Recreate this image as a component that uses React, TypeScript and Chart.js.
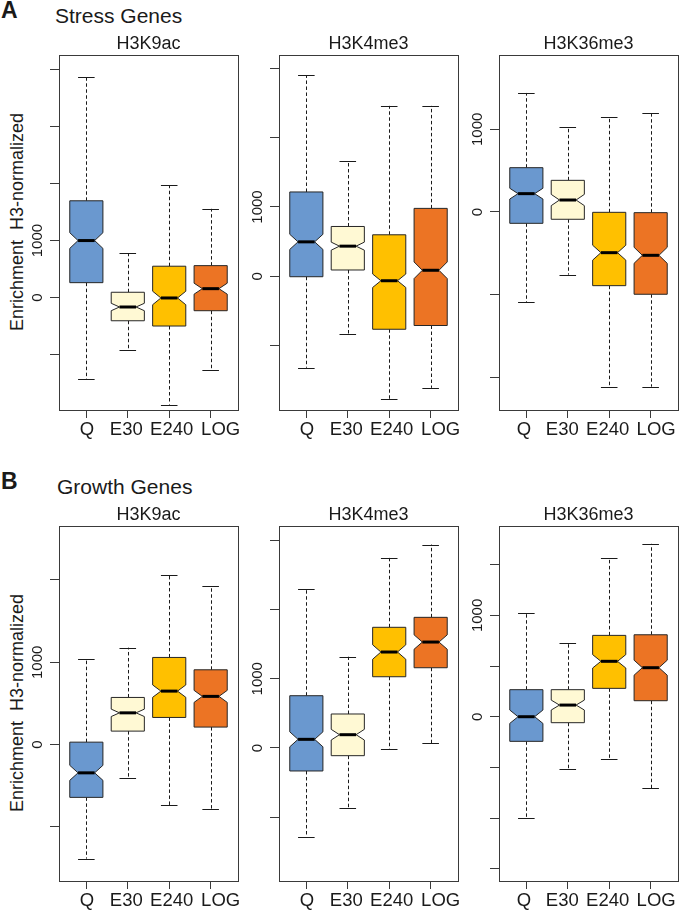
import React, { useEffect, useRef } from 'react';
import { Chart, registerables } from 'chart.js';

Chart.register(...registerables);

const FONT = '"Liberation Sans", Arial, Helvetica, sans-serif';

// ---- categories, colours, tick labels ----
const categories = ['Q', 'E30', 'E240', 'LOG'];
const boxColors = ['#6a98cf', '#fff9d4', '#ffc000', '#ec7424'];
const labeledTicks = [0, 1000];

// ---- A: Stress genes ----
const stressK9acLow = [-1427, -918, -1871, -1269];
const stressK9acQ1 = [263, -404, -496, -228];
const stressK9acMed = [1000, -163, -5, 158];
const stressK9acQ3 = [1696, 95, 551, 561];
const stressK9acHigh = [3865, 778, 1965, 1556];
const stressK9acNotch = [137, 65, 118, 96];
const stressK9acTicks = [-1000, 0, 1000, 2000, 3000, 4000];

const stressK4Low = [-1319, -836, -1773, -1609];
const stressK4Q1 = [-6, 91, -764, -710];
const stressK4Med = [497, 435, -64, 87];
const stressK4Q3 = [1217, 719, 599, 980];
const stressK4High = [2899, 1662, 2459, 2459];
const stressK4Notch = [109, 58, 97, 120];
const stressK4Ticks = [-1000, 0, 1000, 2000, 3000];

const stressK36Low = [-1093, -758, -2113, -2113];
const stressK36Q1 = [-137, -88, -891, -995];
const stressK36Med = [222, 145, -492, -524];
const stressK36Q3 = [536, 383, -4, -8];
const stressK36High = [1440, 1032, 1145, 1202];
const stressK36Notch = [65, 68, 90, 97];
const stressK36Ticks = [-2000, -1000, 0, 1000];

// ---- B: Growth genes ----
const growthK9acLow = [-1385, -411, -735, -787];
const growthK9acQ1 = [-641, 164, 330, 213];
const growthK9acMed = [-343, 386, 650, 586];
const growthK9acQ3 = [30, 573, 1059, 909];
const growthK9acHigh = [1045, 1178, 2065, 1927];
const growthK9acNotch = [91, 45, 75, 73];
const growthK9acTicks = [-1000, 0, 1000, 2000];

const growthK4Low = [-1284, -861, -19, 72];
const growthK4Q1 = [-332, -111, 1029, 1159];
const growthK4Med = [125, 192, 1386, 1530];
const growthK4Q3 = [755, 491, 1743, 1887];
const growthK4High = [2303, 1318, 2745, 2938];
const growthK4Notch = [108, 77, 104, 104];
const growthK4Ticks = [-1000, 0, 1000, 2000, 3000];

const growthK36Low = [-1003, -520, -418, -704];
const growthK36Q1 = [-243, -59, 280, 158];
const growthK36Med = [0, 115, 547, 484];
const growthK36Q3 = [267, 267, 803, 809];
const growthK36High = [1020, 727, 1569, 1707];
const growthK36Notch = [66, 49, 66, 74];
const growthK36Ticks = [-1500, -1000, -500, 0, 500, 1000, 1500];

type PanelDef = {
  title: string;
  row: number;
  col: number;
  low: number[];
  q1: number[];
  med: number[];
  q3: number[];
  high: number[];
  notch: number[];
  yMin: number;
  yMax: number;
  yTicks: number[];
};

const panels: PanelDef[] = [
  { title: 'H3K9ac', row: 0, col: 0, low: stressK9acLow, q1: stressK9acQ1, med: stressK9acMed, q3: stressK9acQ3, high: stressK9acHigh, notch: stressK9acNotch, yMin: -1966, yMax: 4248, yTicks: stressK9acTicks },
  { title: 'H3K4me3', row: 0, col: 1, low: stressK4Low, q1: stressK4Q1, med: stressK4Med, q3: stressK4Q3, high: stressK4High, notch: stressK4Notch, yMin: -1929, yMax: 3193, yTicks: stressK4Ticks },
  { title: 'H3K36me3', row: 0, col: 2, low: stressK36Low, q1: stressK36Q1, med: stressK36Med, q3: stressK36Q3, high: stressK36High, notch: stressK36Notch, yMin: -2395, yMax: 1899, yTicks: stressK36Ticks },
  { title: 'H3K9ac', row: 1, col: 0, low: growthK9acLow, q1: growthK9acQ1, med: growthK9acMed, q3: growthK9acQ3, high: growthK9acHigh, notch: growthK9acNotch, yMin: -1657, yMax: 2656, yTicks: growthK9acTicks },
  { title: 'H3K4me3', row: 1, col: 1, low: growthK4Low, q1: growthK4Q1, med: growthK4Med, q3: growthK4Q3, high: growthK4High, notch: growthK4Notch, yMin: -1921, yMax: 3206, yTicks: growthK4Ticks },
  { title: 'H3K36me3', row: 1, col: 2, low: growthK36Low, q1: growthK36Q1, med: growthK36Med, q3: growthK36Q3, high: growthK36High, notch: growthK36Notch, yMin: -1622, yMax: 1883, yTicks: growthK36Ticks },
];

// ---- layout ----
const COL_LEFT = [59, 279, 499];
const ROW_TOP = [55, 526];
const FRAME_W = 179;
const FRAME_H = 355;
const Y_AXIS_W = 50;
const TITLE_H = 30;
const X_AXIS_H = 32;
const PAD_R = 2;
const BOX_HALF = 0.4;
const STAPLE_HALF = 0.2;
const NOTCH_FRAC = 0.5;
// horizontal nudges of the category labels (px), per panel column
const LABEL_NUDGE = [
  [0.5, -1.5, 2.5, 10],
  [0.5, -1.5, 2.5, 10],
  [-2.5, -5.5, -1.5, 5.5],
];

function makeBoxPlugin(p: PanelDef) {
  return {
    id: 'notchedBoxes',
    afterDatasetsDraw(chart: any) {
      const { ctx, chartArea, scales } = chart;
      const xs = scales.x;
      const ys = scales.y;
      const px = (v: number) => xs.getPixelForValue(v);
      const py = (v: number) => ys.getPixelForValue(v);
      ctx.save();
      for (let i = 0; i < categories.length; i++) {
        const c = i + 1;
        const cx = Math.round(px(c)) + 0.5;
        const nLo = p.med[i] - p.notch[i];
        const nHi = p.med[i] + p.notch[i];
        // whiskers
        ctx.strokeStyle = '#1a1a1a';
        ctx.lineWidth = 1;
        ctx.setLineDash([3.5, 2.5]);
        ctx.beginPath();
        ctx.moveTo(cx, py(p.q3[i]));
        ctx.lineTo(cx, py(p.high[i]));
        ctx.moveTo(cx, py(p.q1[i]));
        ctx.lineTo(cx, py(p.low[i]));
        ctx.stroke();
        ctx.setLineDash([]);
        // staples
        ctx.beginPath();
        const yh = Math.round(py(p.high[i])) + 0.5;
        const yl = Math.round(py(p.low[i])) + 0.5;
        ctx.moveTo(px(c - STAPLE_HALF), yh);
        ctx.lineTo(px(c + STAPLE_HALF), yh);
        ctx.moveTo(px(c - STAPLE_HALF), yl);
        ctx.lineTo(px(c + STAPLE_HALF), yl);
        ctx.stroke();
        // notched box
        const kx = [-1, 1, 1, NOTCH_FRAC, 1, 1, -1, -1, -NOTCH_FRAC, -1];
        const vy = [p.q1[i], p.q1[i], nLo, p.med[i], nHi, p.q3[i], p.q3[i], nHi, p.med[i], nLo];
        ctx.beginPath();
        for (let k = 0; k < kx.length; k++) {
          const X = px(c + kx[k] * BOX_HALF);
          const Y = py(vy[k]);
          if (k === 0) ctx.moveTo(X, Y);
          else ctx.lineTo(X, Y);
        }
        ctx.closePath();
        ctx.fillStyle = boxColors[i];
        ctx.fill();
        ctx.strokeStyle = '#262626';
        ctx.lineWidth = 1;
        ctx.stroke();
        // median
        ctx.beginPath();
        ctx.lineWidth = 3;
        ctx.strokeStyle = '#000';
        const ym = py(p.med[i]);
        ctx.moveTo(px(c - NOTCH_FRAC * BOX_HALF), ym);
        ctx.lineTo(px(c + NOTCH_FRAC * BOX_HALF), ym);
        ctx.stroke();
      }
      // frame
      ctx.strokeStyle = '#3a3a3a';
      ctx.lineWidth = 1;
      ctx.strokeRect(
        Math.round(chartArea.left) + 0.5,
        Math.round(chartArea.top) + 0.5,
        Math.round(chartArea.right - chartArea.left),
        Math.round(chartArea.bottom - chartArea.top)
      );
      // category labels under the x-axis ticks
      ctx.fillStyle = '#1a1a1a';
      ctx.font = `18.5px ${FONT}`;
      ctx.textAlign = 'center';
      ctx.textBaseline = 'middle';
      const nudge = LABEL_NUDGE[p.col];
      xs.ticks.forEach((t: any, i: number) => {
        ctx.fillText(categories[t.value - 1], xs.getPixelForValue(t.value) + nudge[i], chartArea.bottom + 20);
      });
      ctx.restore();
    },
  };
}

function Panel({ p }: { p: PanelDef }) {
  const ref = useRef<HTMLCanvasElement | null>(null);
  const width = Y_AXIS_W + FRAME_W + PAD_R;
  const height = TITLE_H + FRAME_H + X_AXIS_H;
  const left = COL_LEFT[p.col] - Y_AXIS_W;
  const top = ROW_TOP[p.row] - TITLE_H;

  useEffect(() => {
    if (!ref.current) return;
    const chart = new Chart(ref.current, {
      type: 'scatter',
      data: {
        datasets: [
          {
            data: p.med.map((m, i) => ({ x: i + 1, y: m })),
            pointRadius: 0,
            pointHoverRadius: 0,
          },
        ],
      },
      options: {
        responsive: false,
        animation: false,
        events: [],
        layout: { autoPadding: false, padding: { left: 0, top: 0, right: PAD_R, bottom: 0 } },
        plugins: {
          legend: { display: false },
          tooltip: { enabled: false },
          title: {
            display: true,
            text: p.title,
            fullSize: false,
            color: '#1a1a1a',
            font: { family: FONT, size: 18, weight: 'normal', lineHeight: 1 },
            padding: { top: 10, bottom: 2 },
          },
        },
        scales: {
          x: {
            type: 'linear',
            bounds: 'data',
            min: 0.34,
            max: 4.66,
            afterBuildTicks: (s: any) => {
              s.ticks = categories.map((_, i) => ({ value: i + 1 }));
            },
            afterFit: (s: any) => {
              s.height = X_AXIS_H;
            },
            grid: { drawOnChartArea: false, drawTicks: true, tickLength: 8, color: '#3a3a3a', lineWidth: 1 },
            border: { display: false },
            ticks: { display: false, autoSkip: false },
          },
          y: {
            type: 'linear',
            bounds: 'data',
            min: p.yMin,
            max: p.yMax,
            afterBuildTicks: (s: any) => {
              s.ticks = p.yTicks.map((v) => ({ value: v }));
            },
            afterFit: (s: any) => {
              s.width = Y_AXIS_W;
            },
            grid: { drawOnChartArea: false, drawTicks: true, tickLength: 9, color: '#3a3a3a', lineWidth: 1 },
            border: { display: false },
            ticks: {
              autoSkip: false,
              minRotation: 90,
              maxRotation: 90,
              crossAlign: 'center',
              padding: -4.2,
              color: '#1a1a1a',
              font: { family: FONT, size: 15 },
              callback: (v: any) => (labeledTicks.includes(Number(v)) ? String(v) : ''),
            },
          },
        },
      } as any,
      plugins: [makeBoxPlugin(p)],
    });
    return () => chart.destroy();
  }, [p]);

  return (
    <canvas
      ref={ref}
      width={width}
      height={height}
      style={{ position: 'absolute', left, top, width, height }}
    />
  );
}

const textBase: React.CSSProperties = {
  position: 'absolute',
  fontFamily: FONT,
  color: '#1a1a1a',
  whiteSpace: 'pre',
  margin: 0,
};

export default function App() {
  return (
    <div
      style={{
        position: 'absolute',
        left: 0,
        top: 0,
        width: 680,
        height: 910,
        overflow: 'hidden',
        background: '#fff',
      }}
    >
      <div style={{ ...textBase, left: 1, top: -1, fontSize: 23, lineHeight: '23px', fontWeight: 'bold' }}>A</div>
      <div style={{ ...textBase, left: 55, top: 5, fontSize: 21, lineHeight: '21px' }}>Stress Genes</div>
      <div style={{ ...textBase, left: 1, top: 469.5, fontSize: 23, lineHeight: '23px', fontWeight: 'bold' }}>B</div>
      <div style={{ ...textBase, left: 57, top: 476, fontSize: 21, lineHeight: '21px' }}>Growth Genes</div>
      <div
        style={{
          ...textBase,
          left: 16.5,
          top: 221.7,
          fontSize: 18,
          lineHeight: '18px',
          transform: 'translate(-50%, -50%) rotate(-90deg)',
        }}
      >
        {'Enrichment  H3-normalized'}
      </div>
      <div
        style={{
          ...textBase,
          left: 16.5,
          top: 703.3,
          fontSize: 18,
          lineHeight: '18px',
          transform: 'translate(-50%, -50%) rotate(-90deg)',
        }}
      >
        {'Enrichment  H3-normalized'}
      </div>
      {panels.map((p, i) => (
        <Panel key={i} p={p} />
      ))}
    </div>
  );
}
